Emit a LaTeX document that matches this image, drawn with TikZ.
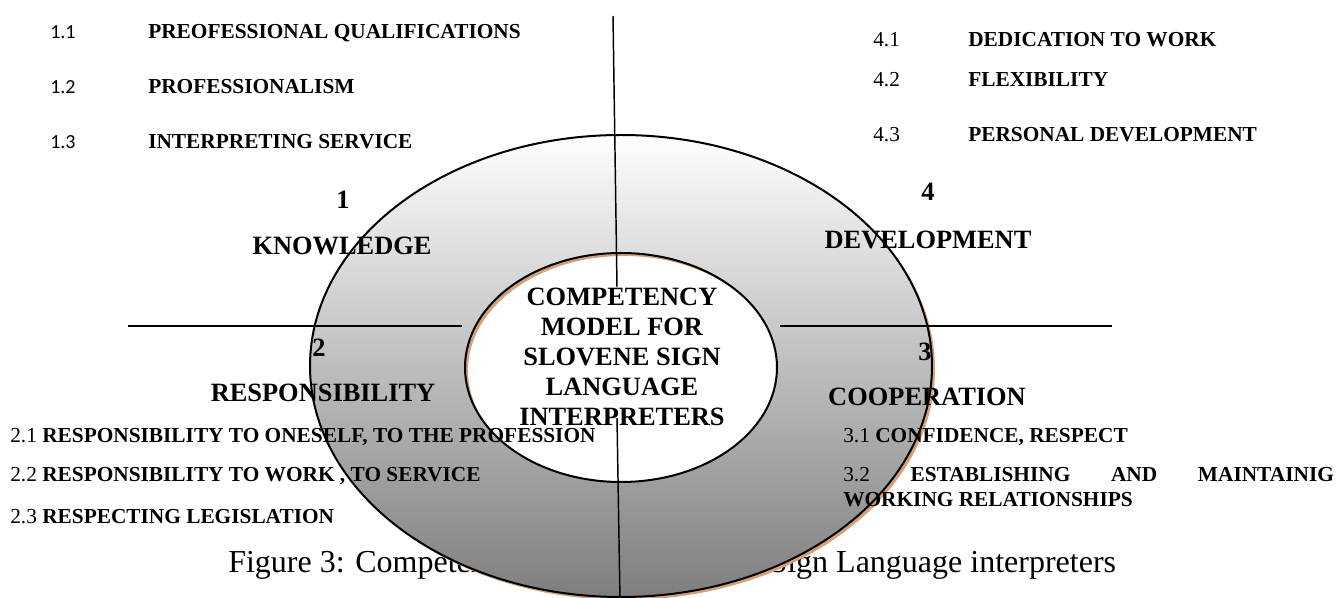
\documentclass[tikz,border=0pt]{standalone}
\usepackage{fontspec}
\setmainfont{Liberation Serif}
\newfontfamily\calibfont{Carlito}
\definecolor{ringshadow}{RGB}{212,162,122}
\definecolor{ringtop}{RGB}{254,254,254}
\definecolor{ringbottom}{RGB}{126,126,126}
\begin{document}
\begin{tikzpicture}[x=0.75pt,y=-0.75pt,
  item/.style={inner sep=0pt, anchor=base west, font=\fontsize{16}{19}\selectfont},
  subnum/.style={inner sep=0pt, anchor=base west, font=\fontsize{15}{18}\selectfont\calibfont},
  head/.style={inner sep=0pt, font=\fontsize{19.8}{22}\selectfont\bfseries},
  guide/.style={line width=1.1pt},
  rim/.style={line width=1.5pt},
]
\useasboundingbox (0,0) rectangle (1340,598);

% caption, partly hidden behind the ring
\node[inner sep=0pt, anchor=base west, font=\fontsize{24}{28}\selectfont] (caption) at (228,573)
  {Figure 3: Competency model for Slovene Sign Language interpreters};

% ring: shadow, graded fill, outlines
\fill[ringshadow, even odd rule]
  (624,369) ellipse [x radius=311, y radius=231]
  (624,370.5) ellipse [x radius=156, y radius=114.5];
\shade[even odd rule, top color=ringtop, bottom color=ringbottom]
  (621,366) ellipse [x radius=311, y radius=231]
  (621,367.5) ellipse [x radius=156, y radius=114.5];
\draw[rim] (621,366) ellipse [x radius=311, y radius=231];
\draw[rim] (621,367.5) ellipse [x radius=156, y radius=114.5];

% quadrant dividers
\coordinate (vtA) at (613,16);
\coordinate (vtB) at (617,287);
\coordinate (vbA) at (617,418);
\coordinate (vbB) at (620,600);
\coordinate (hlA) at (128,326);
\coordinate (hlB) at (462,326);
\coordinate (hrA) at (780,326);
\coordinate (hrB) at (1112,326);
\draw[guide] (vtA) -- (vtB);
\draw[guide] (vbA) -- (vbB);
\draw[guide] (hlA) -- (hlB);
\draw[guide] (hrA) -- (hrB);

% centre
\node[head, align=center, font=\fontsize{19.8}{22.5}\selectfont\bfseries] (core) at (622,357)
  {COMPETENCY\\MODEL FOR\\SLOVENE SIGN\\LANGUAGE\\INTERPRETERS};

% quadrant headings
\node[head] (n1) at (343,200) {1};
\node[head] (knowledge) at (342,246) {KNOWLEDGE};
\node[head] (n4) at (928,192) {4};
\node[head] (development) at (928,240) {DEVELOPMENT};
\node[head] (n2) at (319,348) {2};
\node[head] (responsibility) at (323,393) {RESPONSIBILITY};
\node[head] (n3) at (925,352) {3};
\node[head] (cooperation) at (927,397) {COOPERATION};

% knowledge items
\node[subnum] (k1n) at (50,39) {1.1};
\node[item] (k1) at (148,39) {\textbf{PREOFESSIONAL QUALIFICATIONS}};
\node[subnum] (k2n) at (50,94) {1.2};
\node[item] (k2) at (148,94) {\textbf{PROFESSIONALISM}};
\node[subnum] (k3n) at (50,149) {1.3};
\node[item] (k3) at (148,149) {\textbf{INTERPRETING SERVICE}};

% development items
\node[item] (d1n) at (873,47) {4.1};
\node[item] (d1) at (968,47) {\textbf{DEDICATION TO WORK}};
\node[item] (d2n) at (873,87) {4.2};
\node[item] (d2) at (968,87) {\textbf{FLEXIBILITY}};
\node[item] (d3n) at (873,142) {4.3};
\node[item] (d3) at (968,142) {\textbf{PERSONAL DEVELOPMENT}};

% responsibility items
\node[item] (r1) at (10,443) {2.1 \textbf{RESPONSIBILITY TO ONESELF, TO THE PROFESSION}};
\node[item] (r2) at (10,482) {2.2 \textbf{RESPONSIBILITY TO WORK , TO SERVICE}};
\node[item] (r3) at (10,524) {2.3 \textbf{RESPECTING LEGISLATION}};

% cooperation items
\node[item] (c1) at (843,443) {3.1 \textbf{CONFIDENCE, RESPECT}};
\node[item] (c2) at (843,482) {\makebox[368pt][s]{3.2 \textbf{ESTABLISHING AND MAINTAINIG}}};
\node[item] (c2b) at (843,507) {\textbf{WORKING RELATIONSHIPS}};
\end{tikzpicture}
\end{document}
